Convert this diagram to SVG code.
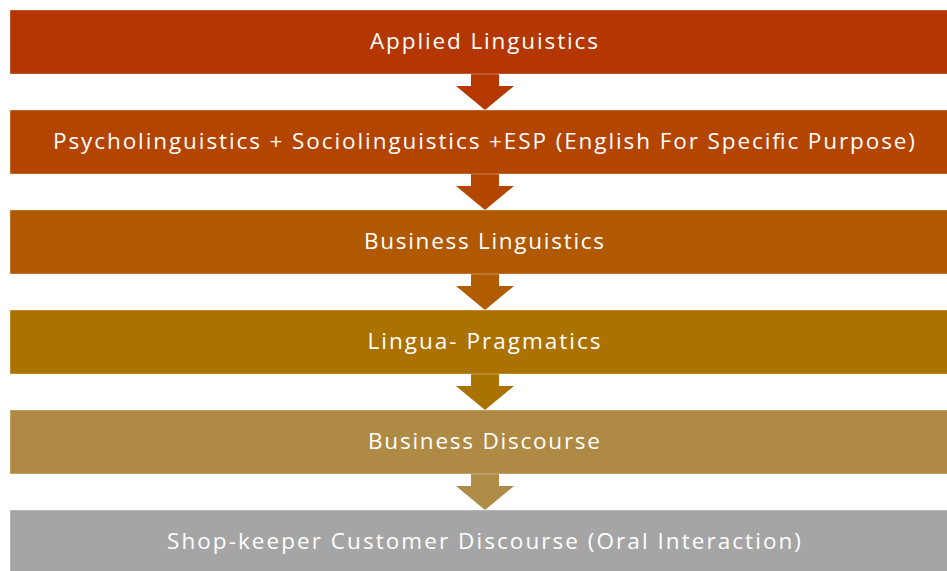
<svg xmlns="http://www.w3.org/2000/svg" width="947" height="571" viewBox="0 0 947 571">
  <style>
    .box { stroke: #ffffff; stroke-opacity: 0.35; stroke-width: 1; }
    .lbl { font-family: "Open Sans", "Liberation Sans", sans-serif; font-size: 22.5px; fill: #ffffff; text-anchor: middle; }
  </style>
  <defs>
    <!-- down arrow: shaft 28 wide, head 58 wide, 36 tall overall -->
    <path id="down" d="M-14 0 H14 V12 H29 L0 36 L-29 12 H-14 Z"/>
  </defs>
  <rect width="947" height="571" fill="#ffffff"/>

  <g id="connectors">
    <use href="#down" x="485" y="74" fill="#B43800"/>
    <use href="#down" x="485" y="174" fill="#B34700"/>
    <use href="#down" x="485" y="274" fill="#AF5D00"/>
    <use href="#down" x="485" y="374" fill="#AA7300"/>
    <use href="#down" x="485" y="474" fill="#AE8B46"/>
  </g>

  <g id="n1">
    <rect class="box" x="10" y="10" width="948" height="64" fill="#B43600"/>
    <text class="lbl" x="484" y="49" textLength="228" lengthAdjust="spacing">Applied Linguistics</text>
  </g>
  <g id="n2">
    <rect class="box" x="10" y="110" width="948" height="64" fill="#B34500"/>
    <text class="lbl" x="484" y="149" textLength="862" lengthAdjust="spacing">Psycholinguistics + Sociolinguistics +ESP (English For Specific Purpose)</text>
  </g>
  <g id="n3">
    <rect class="box" x="10" y="210" width="948" height="64" fill="#B05900"/>
    <text class="lbl" x="484" y="249" textLength="240" lengthAdjust="spacing">Business Linguistics</text>
  </g>
  <g id="n4">
    <rect class="box" x="10" y="310" width="948" height="64" fill="#AB7200"/>
    <text class="lbl" x="484" y="349" textLength="233" lengthAdjust="spacing">Lingua- Pragmatics</text>
  </g>
  <g id="n5">
    <rect class="box" x="10" y="410" width="948" height="64" fill="#AE8A45"/>
    <text class="lbl" x="484" y="449" textLength="232" lengthAdjust="spacing">Business Discourse</text>
  </g>
  <g id="n6">
    <rect class="box" x="10" y="510" width="948" height="64" fill="#A5A5A5"/>
    <text class="lbl" x="484" y="549" textLength="634" lengthAdjust="spacing">Shop-keeper Customer Discourse (Oral Interaction)</text>
  </g>
</svg>
